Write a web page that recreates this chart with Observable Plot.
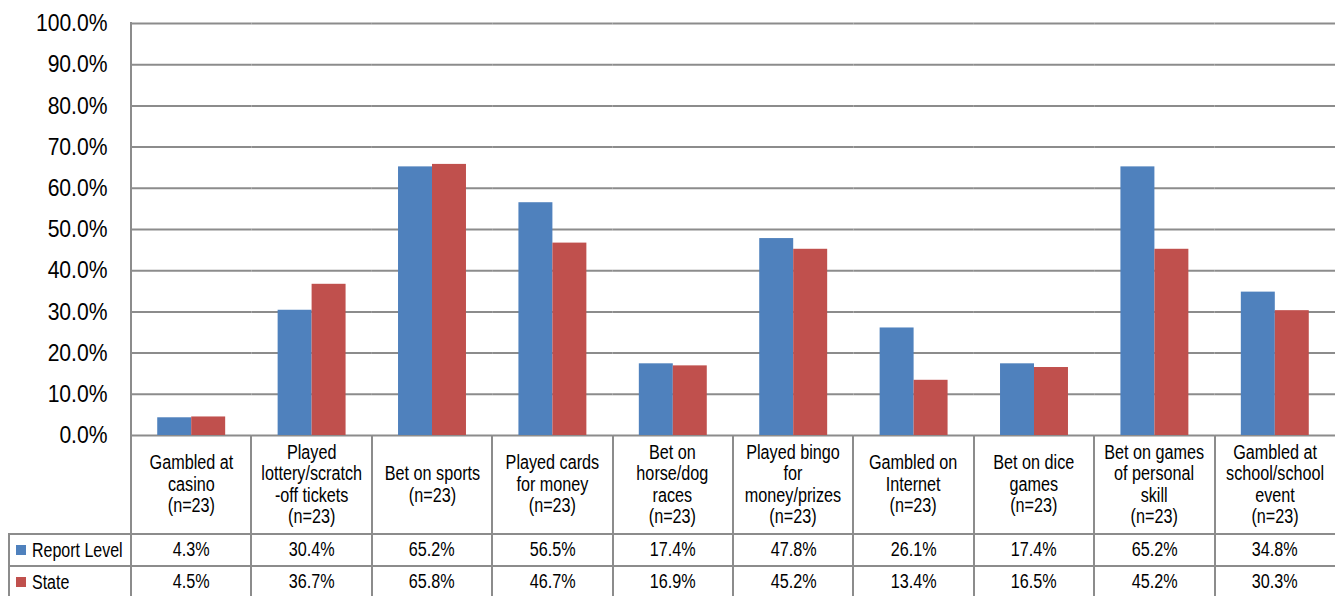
<!DOCTYPE html>
<html>
<head>
<meta charset="utf-8">
<script src="https://cdn.jsdelivr.net/npm/d3@7"></script>
<script src="https://cdn.jsdelivr.net/npm/@observablehq/plot@0.6"></script>
<style>
  html, body { margin: 0; padding: 0; background: #fff; overflow: hidden; }
  #wrap { position: relative; width: 1336px; height: 596px; overflow: hidden;
          font-family: "Liberation Sans", Arial, sans-serif; color: #000; }
  #chart { position: absolute; left: 0; top: 0; }
  .ln { position: absolute; background: #8c8c8c; }
  .cell { position: absolute; display: flex; align-items: center; justify-content: center;
          text-align: center; white-space: pre; font-size: 19.5px; line-height: 21.5px; }
  .cell span { display: inline-block; transform: scaleX(0.83); }
  .leg { position: absolute; display: flex; align-items: center; font-size: 19.5px; white-space: nowrap; }
  .leg span.t { display: inline-block; transform: scaleX(0.82); transform-origin: left center; }
  .sw { width: 10px; height: 10px; margin-right: 6px; }
</style>
</head>
<body>
<div id="wrap"><div id="chart"></div></div>
<script>
const categories = [
  "Gambled at\ncasino\n(n=23)",
  "Played\nlottery/scratch\n-off tickets\n(n=23)",
  "Bet on sports\n(n=23)",
  "Played cards\nfor money\n(n=23)",
  "Bet on\nhorse/dog\nraces\n(n=23)",
  "Played bingo\nfor\nmoney/prizes\n(n=23)",
  "Gambled on\nInternet\n(n=23)",
  "Bet on dice\ngames\n(n=23)",
  "Bet on games\nof personal\nskill\n(n=23)",
  "Gambled at\nschool/school\nevent\n(n=23)"
];
const series = ["Report Level", "State"];
const reportLevel = [4.3, 30.4, 65.2, 56.5, 17.4, 47.8, 26.1, 17.4, 65.2, 34.8];
const state = [4.5, 36.7, 65.8, 46.7, 16.9, 45.2, 13.4, 16.5, 45.2, 30.3];
const yTicks = [0, 10, 20, 30, 40, 50, 60, 70, 80, 90, 100];
const colors = ["#4F81BD", "#C0504D"];

const seriesValues = [reportLevel, state];
const data = categories.flatMap((c, i) =>
  series.map((s, j) => ({cat: c, series: s, value: seriesValues[j][i]})));

const fontFamily = '"Liberation Sans", Arial, sans-serif';
const gridColor = "#8c8c8c";

const chart = Plot.plot({
  width: 1336,
  height: 437,
  marginLeft: 131,
  marginRight: 1,
  marginTop: 23,
  marginBottom: 2,
  style: {fontFamily, fontSize: "24px", color: "#000", background: "transparent", overflow: "visible"},
  fx: {domain: categories, padding: 0, round: false, axis: null},
  x: {domain: series, paddingInner: 0, paddingOuter: 0.772, round: false, axis: null},
  y: {domain: [0, 100], axis: null},
  color: {domain: series, range: colors},
  marks: [
    Plot.gridY(yTicks, {stroke: gridColor, strokeOpacity: 1, strokeWidth: 2}),
    Plot.barY(data, {fx: "cat", x: "series", y: "value", fill: "series"}),
    Plot.axisY(yTicks, {tickSize: 0, tickPadding: 24, fontSize: 24, label: null,
      tickFormat: d => d.toFixed(1) + "%"})
  ]
});
document.getElementById("chart").append(chart);

// condense the y tick labels horizontally (narrow face in the original), anchored at their right edge
chart.querySelectorAll('g[aria-label="y-axis tick label"]').forEach(g => {
  const bb = g.getBBox();
  const r = bb.x + bb.width;
  const prev = g.getAttribute("transform") || "";
  g.setAttribute("transform", `${prev} translate(${r},0) scale(0.88,1) translate(${-r},0)`.trim());
});

// Data table under the chart, aligned with the fx band scale
const wrap = document.getElementById("wrap");
const fx = chart.scale("fx");
const ys = chart.scale("y");
const y0 = ys.apply(0);
const yTop = ys.apply(100);
const bw = fx.bandwidth;
const left0 = fx.apply(categories[0]);
const right = fx.apply(categories[categories.length - 1]) + bw;
const headerH = 99, rowH = 32;
const tableLeft = 9;

function line(x, y, w, h) {
  const d = document.createElement("div");
  d.className = "ln";
  Object.assign(d.style, {left: x + "px", top: y + "px", width: w + "px", height: h + "px"});
  wrap.append(d);
}
function cell(x, y, w, h, text) {
  const d = document.createElement("div");
  d.className = "cell";
  Object.assign(d.style, {left: x + "px", top: y + "px", width: w + "px", height: h + "px"});
  const sp = document.createElement("span");
  sp.textContent = text;
  d.append(sp);
  wrap.append(d);
}

// header labels
categories.forEach(c => cell(fx.apply(c), y0, bw, headerH, c));
// data rows
series.forEach((s, j) => {
  const top = y0 + headerH + j * rowH;
  categories.forEach((c, i) => cell(fx.apply(c), top, bw, rowH, seriesValues[j][i].toFixed(1) + "%"));
  const lg = document.createElement("div");
  lg.className = "leg";
  Object.assign(lg.style, {left: (tableLeft + 7) + "px", top: top + "px", height: rowH + "px"});
  const sw = document.createElement("span");
  sw.className = "sw";
  sw.style.background = colors[j];
  const t = document.createElement("span");
  t.className = "t";
  t.textContent = s;
  lg.append(sw, t);
  wrap.append(lg);
});
// grid lines of the table
line(left0 - 1, yTop - 1, 2, 596 - yTop + 1);
categories.slice(1).forEach(c => line(fx.apply(c) - 1, y0, 2, 596 - y0));
line(tableLeft - 1, y0 + headerH - 1, 2, 596 - (y0 + headerH) + 1);
series.forEach((s, j) => line(tableLeft - 1, y0 + headerH + j * rowH - 1, right - tableLeft + 1, 2));
</script>
</body>
</html>
